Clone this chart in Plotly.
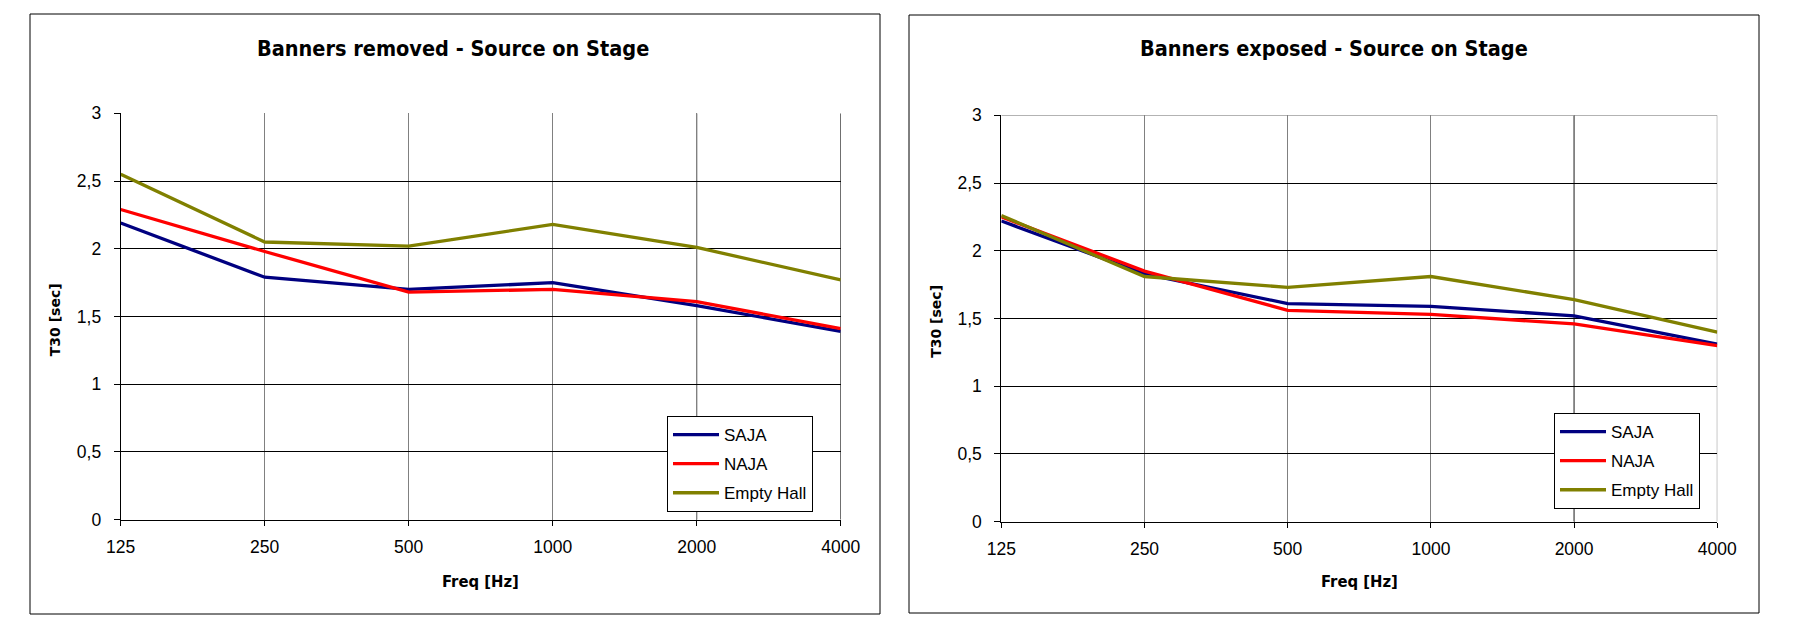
import plotly.graph_objects as go

# ---------------- data ----------------
freqs = ["125", "250", "500", "1000", "2000", "4000"]

saja_removed = [2.19, 1.79, 1.70, 1.75, 1.58, 1.39]
naja_removed = [2.29, 1.98, 1.68, 1.70, 1.61, 1.41]
hall_removed = [2.55, 2.05, 2.02, 2.18, 2.01, 1.77]

saja_exposed = [2.22, 1.83, 1.61, 1.59, 1.52, 1.31]
naja_exposed = [2.25, 1.85, 1.56, 1.53, 1.46, 1.30]
hall_exposed = [2.26, 1.81, 1.73, 1.81, 1.64, 1.40]

series_names = ["SAJA", "NAJA", "Empty Hall"]
series_colors = ["#000080", "#FF0000", "#808000"]

y_ticks = [0, 0.5, 1, 1.5, 2, 2.5, 3]
y_ticktext = ["0", "0,5", "1", "1,5", "2", "2,5", "3"]

titles = ["Banners removed - Source on Stage", "Banners exposed - Source on Stage"]

# ---------------- geometry ----------------
W, H = 1795, 623

def px_x(v):
    return v / W

def px_y(v):
    return 1 - v / H

fig = go.Figure()

TICK_FONT = dict(family="Liberation Sans, Arial, sans-serif", size=17.5, color="#000000")
BOLD_COND = "DejaVu Sans Condensed, DejaVu Sans, sans-serif"

panels = [
    dict(data=[saja_removed, naja_removed, hall_removed], xa="x", ya="y", legend="legend"),
    dict(data=[saja_exposed, naja_exposed, hall_exposed], xa="x2", ya="y2", legend="legend2"),
]

for p in panels:
    for name, vals, col in zip(series_names, p["data"], series_colors):
        fig.add_trace(go.Scatter(
            x=freqs, y=vals, name=name, mode="lines",
            line=dict(color=col, width=3.3),
            xaxis=p["xa"], yaxis=p["ya"], legend=p["legend"],
            legendgroup=p["legend"] + name, showlegend=True,
        ))

# plot areas in page pixels (x0, x1, ytop, ybottom)
left_plot = (120.7, 840.7, 113.3, 519.7)
right_plot = (1001.3, 1717.3, 115.3, 521.7)

def axis_pair(plot):
    x0, x1, y0, y1 = plot
    xa = dict(
        domain=[px_x(x0), px_x(x1)], type="category", range=[0, 5],
        showgrid=True, gridcolor="#808080", gridwidth=1,
        showline=True, linecolor="#000000", linewidth=1, mirror=False,
        ticks="outside", ticklen=5, tickcolor="#000000",
        tickfont=TICK_FONT, ticklabelstandoff=6, zeroline=False,
        fixedrange=True, automargin=False,
    )
    ya = dict(
        domain=[px_y(y1), px_y(y0)], range=[0, 3],
        tickvals=y_ticks, ticktext=y_ticktext,
        showgrid=True, gridcolor="#000000", gridwidth=1,
        showline=True, linecolor="#000000", linewidth=1, mirror=False,
        ticks="outside", ticklen=6, tickcolor="#000000",
        tickfont=TICK_FONT, ticklabelstandoff=9, zeroline=False,
        fixedrange=True, automargin=False,
    )
    return xa, ya

xa1, ya1 = axis_pair(left_plot)
xa2, ya2 = axis_pair(right_plot)
ya2["anchor"] = "x2"
xa2["anchor"] = "y2"

shapes = []
# panel borders
for (bx0, bx1, by0, by1) in [(30, 880, 14, 614), (909, 1759, 15, 613)]:
    shapes.append(dict(type="rect", xref="paper", yref="paper",
                       x0=px_x(bx0), x1=px_x(bx1), y0=px_y(by1), y1=px_y(by0),
                       line=dict(color="#000000", width=1), fillcolor="rgba(0,0,0,0)",
                       layer="below"))
# left chart: black vertical at 2000 and right edge
shapes.append(dict(type="line", xref="x", yref="y", x0=4, x1=4, y0=0, y1=3,
                   line=dict(color="#000000", width=1), layer="below"))
shapes.append(dict(type="line", xref="x", yref="y", x0=5, x1=5, y0=0, y1=3,
                   line=dict(color="#000000", width=1), layer="below"))
# right chart: black vertical at 2000, gray border top/right
shapes.append(dict(type="line", xref="x2", yref="y2", x0=4, x1=4, y0=0, y1=3,
                   line=dict(color="#000000", width=1), layer="below"))
shapes.append(dict(type="line", xref="x2", yref="y2", x0=0, x1=5, y0=3, y1=3,
                   line=dict(color="#808080", width=1), layer="below"))
shapes.append(dict(type="line", xref="x2", yref="y2", x0=5, x1=5, y0=0, y1=3,
                   line=dict(color="#808080", width=1), layer="below"))

annotations = []
for title, cx in zip(titles, [453, 1334]):
    annotations.append(dict(text="<b>" + title + "</b>", xref="paper", yref="paper",
                            x=px_x(cx), y=px_y(49), xanchor="center", yanchor="middle",
                            showarrow=False,
                            font=dict(family=BOLD_COND, size=21.5, color="#000000")))
for plot in [left_plot, right_plot]:
    x0, x1, y0, y1 = plot
    annotations.append(dict(text="<b>Freq [Hz]</b>", xref="paper", yref="paper",
                            x=px_x((x0 + x1) / 2), y=px_y(581), xanchor="center", yanchor="middle",
                            showarrow=False,
                            font=dict(family=BOLD_COND, size=16.5, color="#000000")))
    annotations.append(dict(text="<b>T30 [sec]</b>", xref="paper", yref="paper",
                            x=px_x(x0 - 66), y=px_y((y0 + y1) / 2 + 3), xanchor="center", yanchor="middle",
                            textangle=-90, showarrow=False,
                            font=dict(family="DejaVu Sans, sans-serif", size=14, color="#000000")))

legend_style = dict(
    bgcolor="#FFFFFF", bordercolor="#000000", borderwidth=1,
    font=dict(family="Liberation Sans, Arial, sans-serif", size=17, color="#000000"),
    xanchor="left", yanchor="top", tracegroupgap=4, traceorder="grouped",
    itemwidth=46,
    itemclick=False, itemdoubleclick=False,
)

fig.update_layout(
    width=W, height=H, autosize=False,
    margin=dict(l=0, r=0, t=0, b=0, pad=0, autoexpand=False),
    paper_bgcolor="#FFFFFF", plot_bgcolor="#FFFFFF",
    xaxis=xa1, yaxis=ya1, xaxis2=xa2, yaxis2=ya2,
    shapes=shapes, annotations=annotations,
    legend=dict(x=px_x(667), y=px_y(416), **legend_style),
    legend2=dict(x=px_x(1554), y=px_y(413), **legend_style),
    showlegend=True,
)

fig.write_html("out.html")
